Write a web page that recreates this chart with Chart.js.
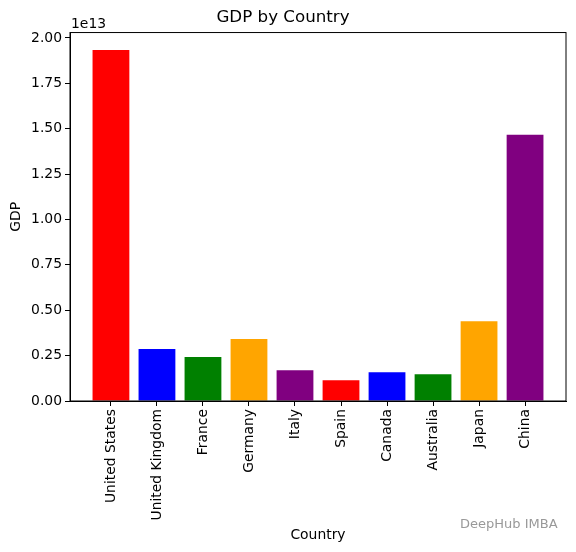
<!DOCTYPE html>
<html>
<head>
<meta charset="utf-8">
<script src="https://cdn.jsdelivr.net/npm/chart.js@4"></script>
<style>
  html, body { margin: 0; padding: 0; background: #fff; }
  #wrap { width: 576px; height: 552px; }
</style>
</head>
<body>
<div id="wrap"><canvas id="gdpChart"></canvas></div>
<script>
// GDP by Country - bar chart
const countries = ['United States', 'United Kingdom', 'France', 'Germany', 'Italy',
                   'Spain', 'Canada', 'Australia', 'Japan', 'China'];
const gdp = [1.934e13, 0.286e13, 0.242e13, 0.341e13, 0.170e13,
             0.115e13, 0.159e13, 0.148e13, 0.440e13, 1.467e13];
const barColors = ['red', 'blue', 'green', 'orange', 'purple'];
const yTicks = [0, 0.25e13, 0.5e13, 0.75e13, 1e13, 1.25e13, 1.5e13, 1.75e13, 2e13];

const font = 'DejaVu Sans';
Chart.defaults.font.family = font;
Chart.defaults.color = '#000';

// frame on top/right, the 1e13 offset text and the watermark
const extras = {
  id: 'extras',
  afterDraw(chart) {
    const { ctx, chartArea: a } = chart;
    ctx.save();
    ctx.strokeStyle = '#000';
    ctx.lineWidth = 1;
    ctx.strokeRect(a.left, a.top, a.right - a.left, a.bottom - a.top);
    ctx.fillStyle = '#000';
    ctx.font = '13.9px ' + font;
    ctx.textAlign = 'left';
    ctx.textBaseline = 'alphabetic';
    ctx.fillText('1e13', a.left + 1, a.top - 5);
    ctx.font = '13px ' + font;
    ctx.textBaseline = 'middle';
    ctx.lineWidth = 2;
    ctx.strokeStyle = '#fff';
    ctx.fillStyle = '#999';
    ctx.strokeText('DeepHub IMBA', 460, 525);
    ctx.fillText('DeepHub IMBA', 460, 525);
    ctx.restore();
  }
};

new Chart(document.getElementById('gdpChart'), {
  type: 'bar',
  data: {
    datasets: [{
      data: gdp.map((v, i) => ({ x: i, y: v })),
      backgroundColor: countries.map((c, i) => barColors[i % barColors.length]),
      borderWidth: 0,
      categoryPercentage: 1,
      barPercentage: 0.8
    }]
  },
  options: {
    responsive: true,
    maintainAspectRatio: false,
    animation: false,
    layout: { padding: { right: 10 } },
    plugins: {
      legend: { display: false },
      tooltip: { enabled: false },
      title: {
        display: true,
        text: 'GDP by Country',
        font: { size: 16.7, weight: 'normal' },
        padding: { top: 8, bottom: 4.5 }
      }
    },
    scales: {
      x: {
        type: 'linear',
        offset: false,
        min: -0.89,
        max: 9.89,
        afterBuildTicks: s => { s.ticks = countries.map((c, i) => ({ value: i })); },
        afterFit: s => { s.height = 151; },
        grid: { offset: false, drawOnChartArea: false, tickLength: 5, tickColor: '#000' },
        border: { color: '#000' },
        ticks: {
          minRotation: 90,
          maxRotation: 90,
          autoSkip: false,
          padding: 3,
          font: { size: 13.9 },
          callback: v => countries[v]
        },
        title: {
          display: true,
          text: 'Country',
          font: { size: 13.9 },
          padding: { top: 4, bottom: 8 }
        }
      },
      y: {
        min: 0,
        max: 2.03e13,
        afterBuildTicks: s => { s.ticks = yTicks.map(v => ({ value: v })); },
        afterFit: s => { s.width = 70; },
        grid: { drawOnChartArea: false, tickLength: 5, tickColor: '#000' },
        border: { color: '#000' },
        ticks: {
          padding: 3,
          font: { size: 13.9 },
          callback: v => (v / 1e13).toFixed(2)
        },
        title: {
          display: true,
          text: 'GDP',
          font: { size: 13.9 },
          padding: { top: 8, bottom: 4 }
        }
      }
    }
  },
  plugins: [extras]
});
</script>
</body>
</html>
